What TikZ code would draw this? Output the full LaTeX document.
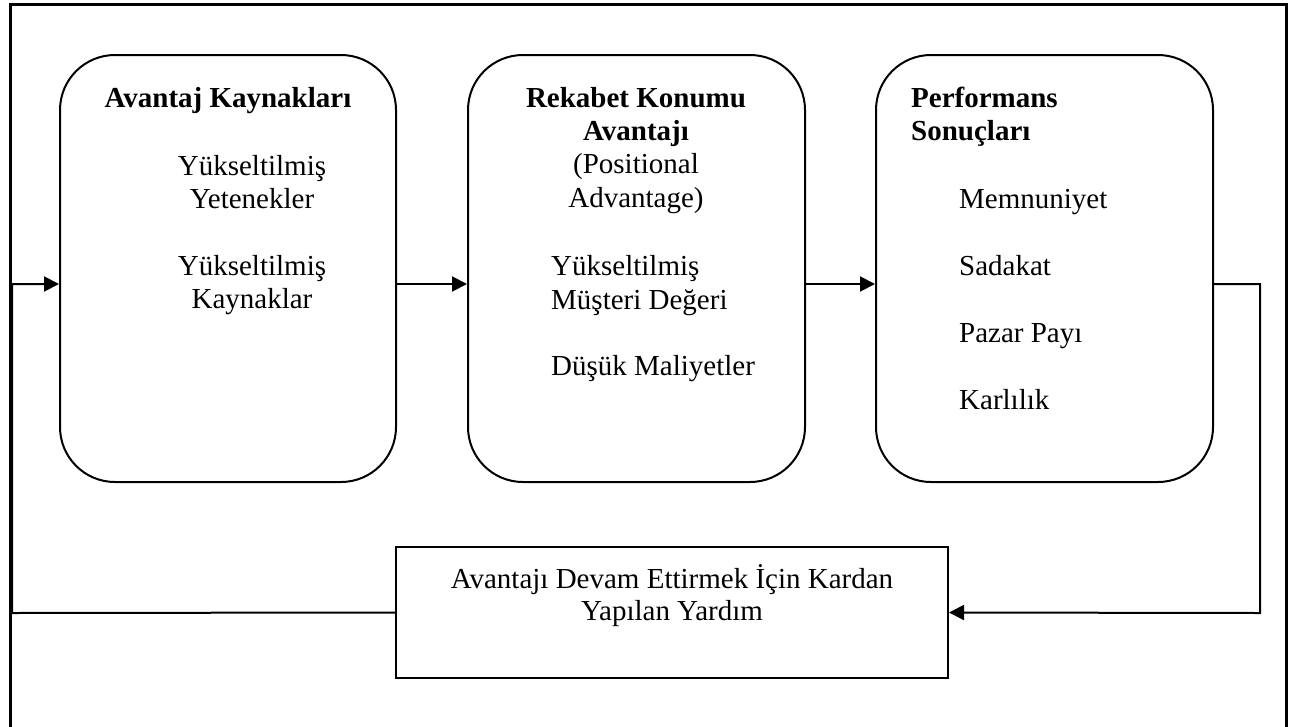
\documentclass[tikz,border=0pt]{standalone}
\usepackage{fontspec}
\setmainfont{Liberation Serif}
\usetikzlibrary{arrows.meta}

\begin{document}
\begin{tikzpicture}[x=1pt,y=-1pt,
  panel/.style={draw, line width=2pt, rounded corners=55pt,
    minimum height=427pt, inner sep=0pt},
  plainbox/.style={draw, line width=2pt, minimum width=552pt,
    minimum height=131pt, inner sep=0pt},
  link/.style={line width=2pt, -{Triangle[length=15pt,width=15pt]}},
  frameline/.style={line width=3pt},
  txt/.style={font=\fontsize{29}{33.5}\selectfont, inner sep=0pt, anchor=base},
  txtl/.style={txt, anchor=base west},
  head/.style={txt, font=\fontsize{29}{33.5}\selectfont\bfseries},
  headl/.style={head, anchor=base west},
]
\useasboundingbox (0,0) rectangle (1293,726);

% outer frame
\draw[frameline] (10,740) -- (10,4) -- (1286,4) -- (1286,740);

% the three stages
\node[panel, minimum width=336pt] (src)  at (228,268.5) {};
\node[panel, minimum width=337pt] (pos)  at (636.5,268.5) {};
\node[panel, minimum width=337pt] (perf) at (1044.5,268.5) {};

% feedback box
\node[plainbox] (fb) at (672,612.5) {};

% stage 1 text
\node[head] (s1h) at (228,107) {Avantaj Kaynakları};
\node[txt]  (s1a) at (252,175) {Yükseltilmiş};
\node[txt]  (s1b) at (252,208) {Yetenekler};
\node[txt]  (s1c) at (252,275) {Yükseltilmiş};
\node[txt]  (s1d) at (252,308) {Kaynaklar};

% stage 2 text
\node[head] (s2h) at (636,107) {Rekabet Konumu};
\node[head] (s2i) at (636,140) {Avantajı};
\node[txt]  (s2j) at (636,173) {(Positional};
\node[txt]  (s2k) at (636,207) {Advantage)};
\node[txtl] (s2a) at (551,275) {Yükseltilmiş};
\node[txtl] (s2b) at (551,309) {Müşteri Değeri};
\node[txtl] (s2c) at (551,375) {Düşük Maliyetler};

% stage 3 text
\node[headl] (s3h) at (911,107) {Performans};
\node[headl] (s3i) at (911,140) {Sonuçları};
\node[txtl]  (s3a) at (959,208) {Memnuniyet};
\node[txtl]  (s3b) at (959,275) {Sadakat};
\node[txtl]  (s3c) at (959,342) {Pazar Payı};
\node[txtl]  (s3d) at (959,409) {Karlılık};

% feedback text
\node[txt] (fba) at (672,588) {Avantajı Devam Ettirmek İçin Kardan};
\node[txt] (fbb) at (672,620) {Yapılan Yardım};

% connectors
\coordinate (row)   at (0,284);
\coordinate (turnR) at (1260,613);
\coordinate (turnL) at (12,613);

\draw[link] (src.east |- row) -- (pos.west |- row);
\draw[link] (pos.east |- row) -- (perf.west |- row);
\draw[link] (perf.east |- row) -| (turnR) -- (fb.east);
\draw[link] (fb.west) -- (turnL) |- (src.west |- row);
\end{tikzpicture}
\end{document}
